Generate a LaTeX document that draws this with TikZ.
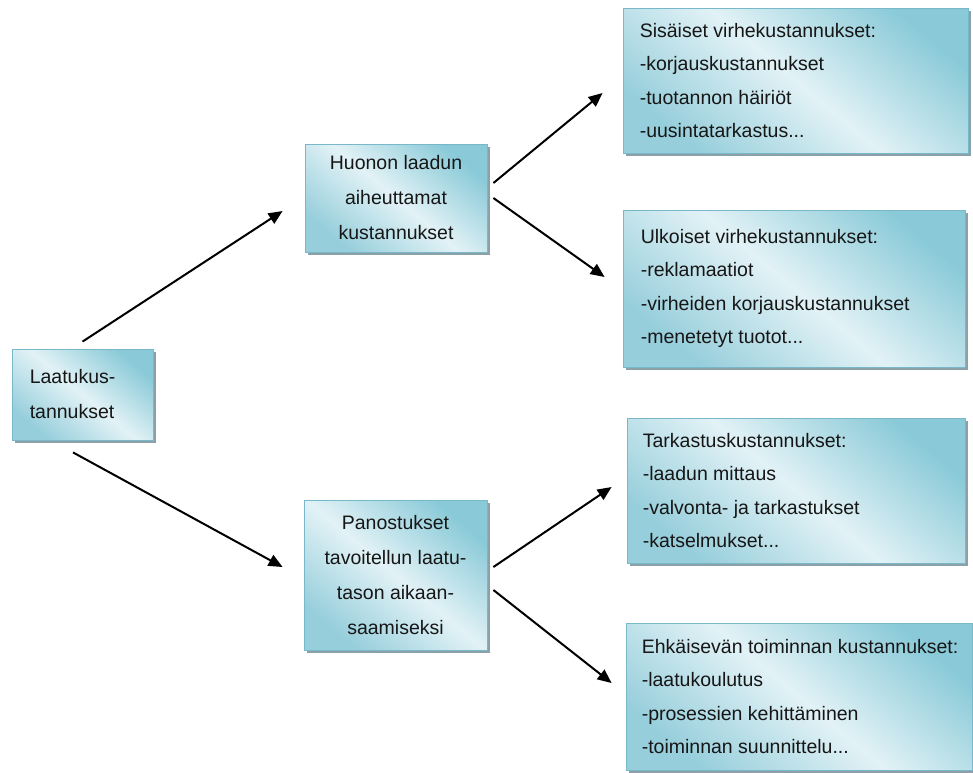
\documentclass[tikz,border=0pt]{standalone}
\usepackage{fontspec}
\setmainfont{Liberation Sans}
\usetikzlibrary{arrows.meta,shadows}
\definecolor{bdark}{RGB}{138,202,216}
\definecolor{bdarkb}{RGB}{150,206,219}
\definecolor{blight}{RGB}{226,242,246}
\definecolor{boxedge}{RGB}{120,184,200}
\definecolor{shadowc}{RGB}{140,160,168}
\definecolor{ink}{RGB}{22,22,22}
\tikzset{
  box/.style={draw=boxedge, line width=0.8pt,
    top color=bdark, bottom color=bdarkb, middle color=blight, shading angle=-40,
    drop shadow={shadow xshift=3pt, shadow yshift=-3pt, fill=shadowc, opacity=1},
    inner sep=0pt, text=ink},
  boxtext/.style={anchor=west, inner sep=0pt, align=left, text=ink,
    font=\fontsize{19.5}{33.5}\selectfont},
  ctext/.style={align=center, font=\fontsize{19.5}{35}\selectfont},
  arr/.style={line width=2pt, -{Triangle[length=14pt,width=12pt]}, black},
}
\begin{document}
\begin{tikzpicture}[x=1pt,y=-1pt]
\useasboundingbox (0,0) rectangle (973,772);
\fill[white] (0,0) rectangle (973,772);

% main cost box
\node[box, minimum width=141pt, minimum height=91pt] (lk) at (82.5,394.5) {};
\node[boxtext, font=\fontsize{19.5}{35}\selectfont] (lkt) at ([xshift=18pt]lk.west) {Laatukus-\\tannukset};

% middle level
\node[box, ctext, minimum width=182pt, minimum height=108pt] (hu) at (396,198)
  {Huonon laadun\\aiheuttamat\\kustannukset};
\node[box, ctext, minimum width=183pt, minimum height=150pt] (pa) at (395.5,575)
  {Panostukset\\tavoitellun laatu-\\tason aikaan-\\saamiseksi};

% right level
\node[box, minimum width=345pt, minimum height=145pt] (si) at (795.5,80.5) {};
\node[boxtext] (sit) at ([xshift=17pt]si.west)
  {Sisäiset virhekustannukset:\\-korjauskustannukset\\-tuotannon häiriöt\\-uusintatarkastus...};

\node[box, minimum width=342pt, minimum height=157pt] (ul) at (794,288.5) {};
\node[boxtext] (ult) at ([xshift=18pt]ul.west)
  {Ulkoiset virhekustannukset:\\-reklamaatiot\\-virheiden korjauskustannukset\\-menetetyt tuotot...};

\node[box, minimum width=338pt, minimum height=145pt] (ta) at (796,490.5) {};
\node[boxtext] (tat) at ([xshift=16pt]ta.west)
  {Tarkastuskustannukset:\\-laadun mittaus\\-valvonta- ja tarkastukset\\-katselmukset...};

\node[box, minimum width=346pt, minimum height=147pt] (eh) at (799,696.5) {};
\node[boxtext] (eht) at ([xshift=16pt]eh.west)
  {Ehkäisevän toiminnan kustannukset:\\-laatukoulutus\\-prosessien kehittäminen\\-toiminnan suunnittelu...};

% connectors
\draw[arr] ([yshift=7pt]lk.north) -- ([xshift=-22pt,yshift=-13pt]hu.west);
\draw[arr] ([xshift=-9.5pt,yshift=-12pt]lk.south) -- ([xshift=-21pt,yshift=8pt]pa.west);
\draw[arr] ([xshift=6pt,yshift=15pt]hu.east) -- ([xshift=-20pt,yshift=-12.5pt]si.west);
\draw[arr] ([xshift=6pt,yshift=0pt]hu.east) -- ([xshift=-18pt,yshift=11.5pt]ul.west);
\draw[arr] ([xshift=6pt,yshift=8pt]pa.east) -- ([xshift=-15pt,yshift=3.5pt]ta.west);
\draw[arr] ([xshift=6pt,yshift=-15pt]pa.east) -- ([xshift=-14pt,yshift=13.5pt]eh.west);
\end{tikzpicture}
\end{document}
